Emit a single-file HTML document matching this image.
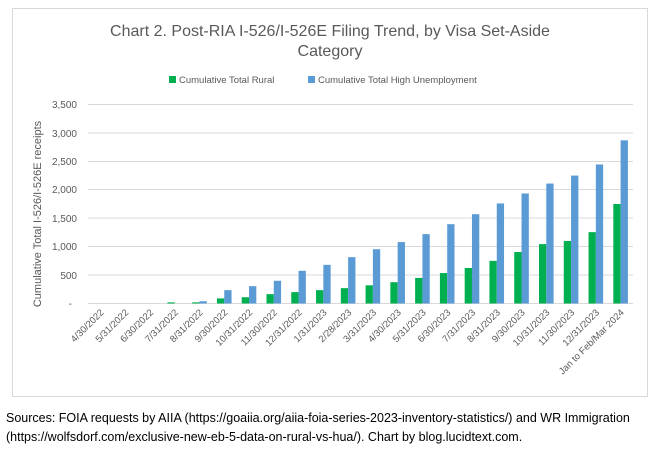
<!DOCTYPE html>
<html><head><meta charset="utf-8"><style>
body{margin:0;background:#fff;width:661px;height:447px;overflow:hidden;font-family:"Liberation Sans",sans-serif}
</style></head><body>
<svg width="661" height="447" xmlns="http://www.w3.org/2000/svg" font-family="Liberation Sans, sans-serif">
<rect x="12.5" y="8.5" width="635" height="388" fill="#fff" stroke="#d9d9d9"/>
<text x="330" y="36" font-size="16" fill="#595959" text-anchor="middle">Chart 2. Post-RIA I-526/I-526E Filing Trend, by Visa Set-Aside</text>
<text x="330" y="56" font-size="16" fill="#595959" text-anchor="middle">Category</text>
<rect x="169" y="76" width="7" height="7" fill="#00b050"/>
<text x="179" y="83" font-size="9.5" fill="#595959">Cumulative Total Rural</text>
<rect x="308" y="76" width="7" height="7" fill="#5b9bd5"/>
<text x="318" y="83" font-size="9.5" fill="#595959">Cumulative Total High Unemployment</text>
<g stroke="#d9d9d9" stroke-width="1">
<line x1="88" x2="633" y1="104.5" y2="104.5"/><line x1="88" x2="633" y1="133" y2="133"/>
<line x1="88" x2="633" y1="161.5" y2="161.5"/><line x1="88" x2="633" y1="189.5" y2="189.5"/>
<line x1="88" x2="633" y1="218" y2="218"/><line x1="88" x2="633" y1="246.5" y2="246.5"/>
<line x1="88" x2="633" y1="275" y2="275"/><line x1="88" x2="633" y1="303.5" y2="303.5"/>
</g>
<g font-size="10" fill="#595959" text-anchor="end">
<text x="77" y="108">3,500</text><text x="77" y="137">3,000</text><text x="77" y="165">2,500</text>
<text x="77" y="193">2,000</text><text x="77" y="222">1,500</text><text x="77" y="250">1,000</text>
<text x="77" y="279">500</text><text x="72" y="307">-</text>
</g>
<text transform="translate(41,214) rotate(-90)" font-size="11" fill="#595959" text-anchor="middle">Cumulative Total I-526/I-526E receipts</text>
<g id="bars"></g>
<g id="labels" font-size="9.5" fill="#595959" text-anchor="end"></g>
<text x="6" y="422" font-size="12.5" fill="#000">Sources: FOIA requests by AIIA (https://goaiia.org/aiia-foia-series-2023-inventory-statistics/) and WR Immigration</text>
<text x="6" y="441" font-size="12.5" fill="#000">(https://wolfsdorf.com/exclusive-new-eb-5-data-on-rural-vs-hua/). Chart by blog.lucidtext.com.</text>
</svg>
<script>
var labs=["4/30/2022","5/31/2022","6/30/2022","7/31/2022","8/31/2022","9/30/2022","10/31/2022","11/30/2022","12/31/2022","1/31/2023","2/28/2023","3/31/2023","4/30/2023","5/31/2023","6/30/2023","7/31/2023","8/31/2023","9/30/2023","10/31/2023","11/30/2023","12/31/2023","Jan to Feb/Mar 2024"];
var g=[0,0,0,20,20,90,110,165,200,235,270,320,375,450,535,625,750,905,1045,1100,1255,1750];
var b=[0,0,0,0,40,235,305,400,575,680,815,955,1080,1220,1395,1570,1760,1935,2110,2250,2445,2870];
var ns="http://www.w3.org/2000/svg",B=document.getElementById("bars"),L=document.getElementById("labels");
var k=199/3500,w=545/22;
function r(x,v,col){if(v<=0)return;var e=document.createElementNS(ns,"rect");var h=v*k;e.setAttribute("x",x);e.setAttribute("y",303.5-h);e.setAttribute("width",7.3);e.setAttribute("height",h);e.setAttribute("fill",col);B.appendChild(e);}
for(var i=0;i<22;i++){var c=88+w*(i+0.5);
r(c-7.3,g[i],"#00b050");r(c,b[i],"#5b9bd5");
var t=document.createElementNS(ns,"text");t.setAttribute("transform","translate("+(c+4)+",313) rotate(-45)");t.textContent=labs[i];L.appendChild(t);}
</script>
</body></html>
